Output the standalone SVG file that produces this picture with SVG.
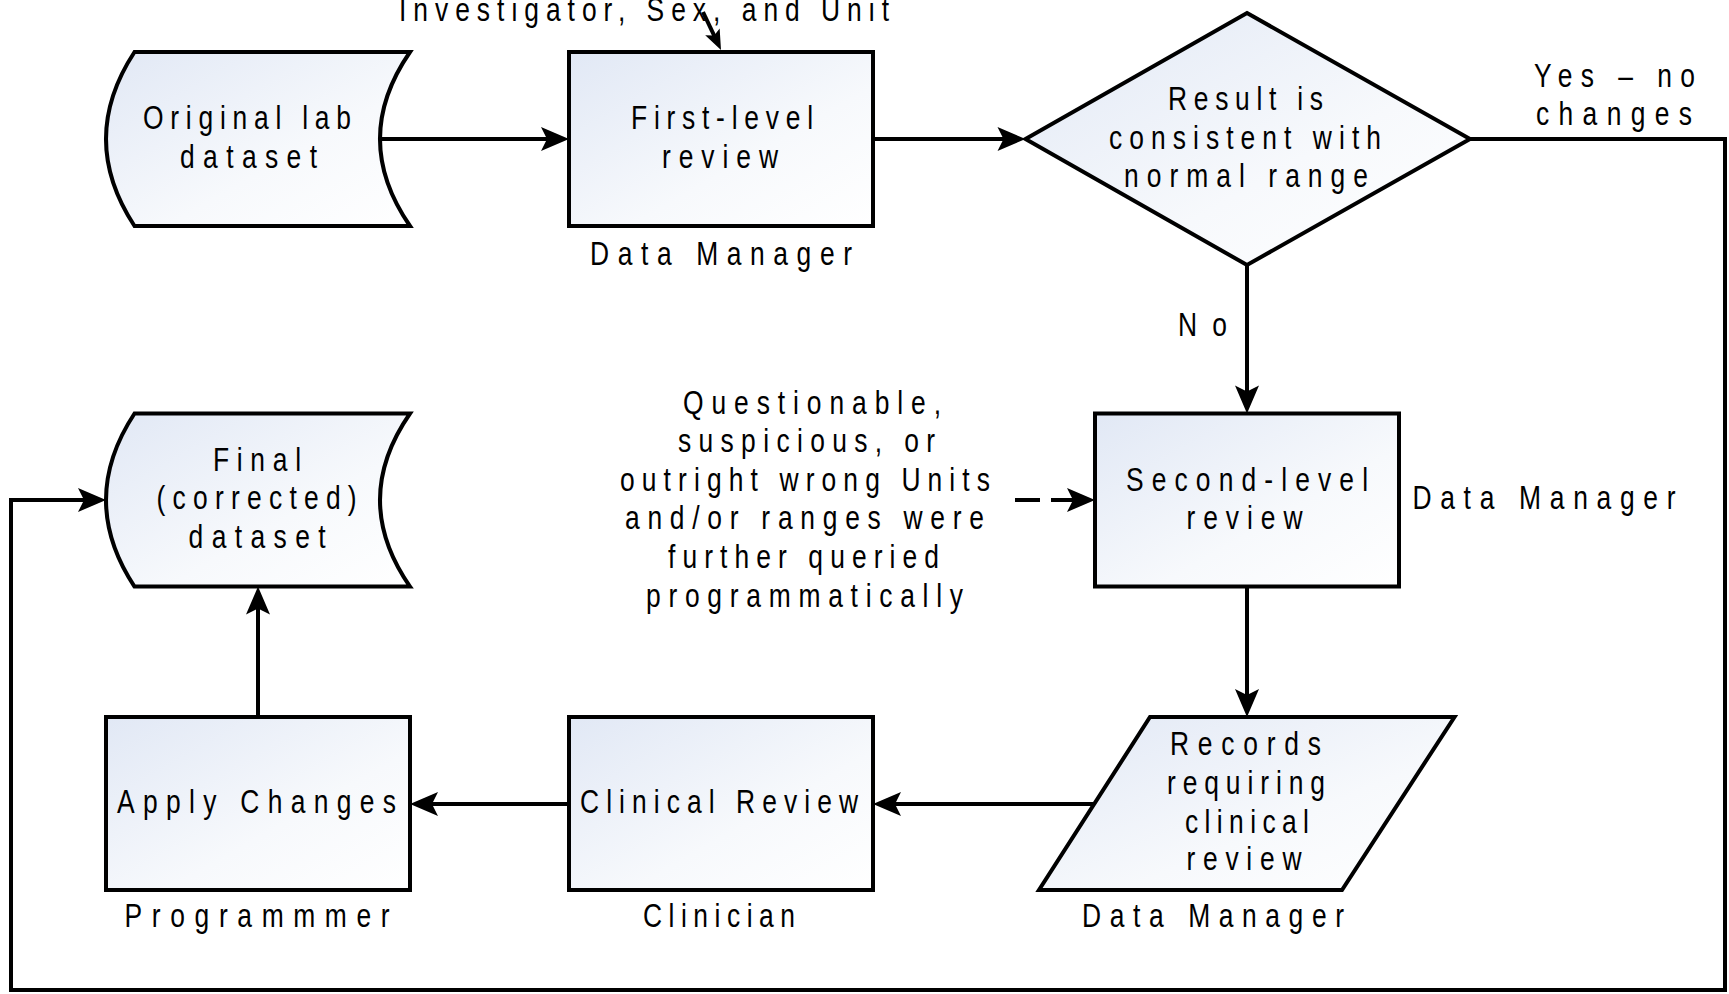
<svg xmlns="http://www.w3.org/2000/svg" width="1729" height="994" viewBox="0 0 1729 994">
<style>
.shape{fill:url(#g);stroke:#000;stroke-width:4;stroke-linejoin:miter}
.t{font-family:"Liberation Sans",Arial,sans-serif;font-size:33px;fill:#000}
.c{fill:none;stroke:#000;stroke-width:4}
.d{fill:none;stroke:#000;stroke-width:4;stroke-dasharray:25 11}
</style>
<defs>
<linearGradient id="g" x1="0" y1="0" x2="1" y2="1">
<stop offset="0" stop-color="#e1e8f5"/>
<stop offset="0.6" stop-color="#f7f9fc"/>
<stop offset="1" stop-color="#ffffff"/>
</linearGradient>
<marker id="arr" markerUnits="userSpaceOnUse" markerWidth="30" markerHeight="26" refX="8" refY="12" orient="auto" overflow="visible">
<path d="M0,0 L28,12 L0,24 L6,12 Z" fill="#000"/>
</marker>
<marker id="arrs" markerUnits="userSpaceOnUse" markerWidth="22" markerHeight="18" refX="6" refY="8" orient="auto" overflow="visible">
<path d="M0,0 L20,8 L0,16 L4,8 Z" fill="#000"/>
</marker>
</defs>
<rect width="1729" height="994" fill="#fff"/>

<g id="connectors">
<line class="c" x1="380" y1="139" x2="549" y2="139" marker-end="url(#arr)"/>
<line class="c" x1="873" y1="139" x2="1005.5" y2="139" marker-end="url(#arr)"/>
<line class="c" x1="1247" y1="265" x2="1247" y2="393.5" marker-end="url(#arr)"/>
<line class="c" x1="1247" y1="586.6" x2="1247" y2="697" marker-end="url(#arr)"/>
<line class="c" x1="1094" y1="804" x2="893" y2="804" marker-end="url(#arr)"/>
<line class="c" x1="569" y1="804" x2="430" y2="804" marker-end="url(#arr)"/>
<line class="c" x1="258" y1="717" x2="258" y2="606.6" marker-end="url(#arr)"/>
<polyline class="c" points="1470,139 1725,139 1725,990 11,990 11,500 86,500" marker-end="url(#arr)"/>
<line class="d" x1="1015" y1="500" x2="1075" y2="500" marker-end="url(#arr)"/>
<line class="c" x1="703" y1="12" x2="715" y2="37.3" marker-end="url(#arrs)" stroke-width="3"/>
<g transform="scale(0.8,1)">
<text class="t" x="498.75" y="21" textLength="612.5" lengthAdjust="spacing">Investigator, Sex, and Unit</text>
<text class="t" x="1917.5" y="87" textLength="201.25" lengthAdjust="spacing">Yes – no</text>
<text class="t" x="1920" y="125" textLength="195" lengthAdjust="spacing">changes</text>
<text class="t" x="1472.5" y="336" textLength="61.25" lengthAdjust="spacing">No</text>
</g>
<g id="query-note" transform="scale(0.8,1)">
<text class="t" x="853.75" y="414" textLength="322.5" lengthAdjust="spacing">Questionable,</text>
<text class="t" x="847.5" y="452" textLength="321.25" lengthAdjust="spacing">suspicious, or</text>
<text class="t" x="775" y="491" textLength="462.5" lengthAdjust="spacing">outright wrong Units</text>
<text class="t" x="781.25" y="529" textLength="448.75" lengthAdjust="spacing">and/or ranges were</text>
<text class="t" x="835" y="568" textLength="338.75" lengthAdjust="spacing">further queried</text>
<text class="t" x="807.5" y="607" textLength="396.25" lengthAdjust="spacing">programmatically</text>
</g>
</g>

<g id="original-dataset">
<path class="shape" d="M134.5,52 H410 Q350,139 410,226 H134.5 Q77.5,139 134.5,52 Z"/>
<g transform="scale(0.8,1)">
<text class="t" x="178.75" y="129" textLength="260" lengthAdjust="spacing">Original lab</text>
<text class="t" x="225" y="168" textLength="171.25" lengthAdjust="spacing">dataset</text>
</g>
</g>

<g id="first-level-review">
<rect class="shape" x="569" y="52" width="304" height="174"/>
<g transform="scale(0.8,1)">
<text class="t" x="788.75" y="129" textLength="227.5" lengthAdjust="spacing">First-level</text>
<text class="t" x="827.5" y="168" textLength="145" lengthAdjust="spacing">review</text>
<text class="t" x="737.5" y="265" textLength="327.5" lengthAdjust="spacing">Data Manager</text>
</g>
</g>

<g id="decision">
<polygon class="shape" points="1247,13 1470,139 1247,265 1025.5,139"/>
<g transform="scale(0.8,1)">
<text class="t" x="1460" y="110" textLength="193.75" lengthAdjust="spacing">Result is</text>
<text class="t" x="1386.25" y="149" textLength="340" lengthAdjust="spacing">consistent with</text>
<text class="t" x="1405" y="187.5" textLength="305" lengthAdjust="spacing">normal range</text>
</g>
</g>

<g id="second-level-review">
<rect class="shape" x="1095" y="413.5" width="304" height="173"/>
<g transform="scale(0.8,1)">
<text class="t" x="1407.5" y="491" textLength="302.5" lengthAdjust="spacing">Second-level</text>
<text class="t" x="1483.1" y="529" textLength="145" lengthAdjust="spacing">review</text>
<text class="t" x="1765.6" y="509.5" textLength="328.75" lengthAdjust="spacing">Data Manager</text>
</g>
</g>

<g id="records">
<polygon class="shape" points="1150,717 1454.5,717 1342,890 1039,890"/>
<g transform="scale(0.8,1)">
<text class="t" x="1462.5" y="755" textLength="188.75" lengthAdjust="spacing">Records</text>
<text class="t" x="1458.75" y="794" textLength="197.5" lengthAdjust="spacing">requiring</text>
<text class="t" x="1481.25" y="832.6" textLength="155" lengthAdjust="spacing">clinical</text>
<text class="t" x="1483.1" y="870" textLength="143.75" lengthAdjust="spacing">review</text>
<text class="t" x="1352.5" y="927.5" textLength="327.5" lengthAdjust="spacing">Data Manager</text>
</g>
</g>

<g id="clinical-review">
<rect class="shape" x="569" y="717" width="304" height="173"/>
<g transform="scale(0.8,1)">
<text class="t" x="725" y="813" textLength="347.5" lengthAdjust="spacing">Clinical Review</text>
<text class="t" x="803.75" y="927.5" textLength="190" lengthAdjust="spacing">Clinician</text>
</g>
</g>

<g id="apply-changes">
<rect class="shape" x="106" y="717" width="304" height="173"/>
<g transform="scale(0.8,1)">
<text class="t" x="146.25" y="813" textLength="348.75" lengthAdjust="spacing">Apply Changes</text>
<text class="t" x="155.75" y="927.5" textLength="331.25" lengthAdjust="spacing">Programmmer</text>
</g>
</g>

<g id="final-dataset">
<path class="shape" d="M134.5,413.5 H410 Q350,500 410,586.6 H134.5 Q77.5,500 134.5,413.5 Z"/>
<g transform="scale(0.8,1)">
<text class="t" x="266.25" y="471" textLength="110" lengthAdjust="spacing">Final</text>
<text class="t" x="195.75" y="509.5" textLength="250" lengthAdjust="spacing">(corrected)</text>
<text class="t" x="235.75" y="548" textLength="171.25" lengthAdjust="spacing">dataset</text>
</g>
</g>
</svg>
